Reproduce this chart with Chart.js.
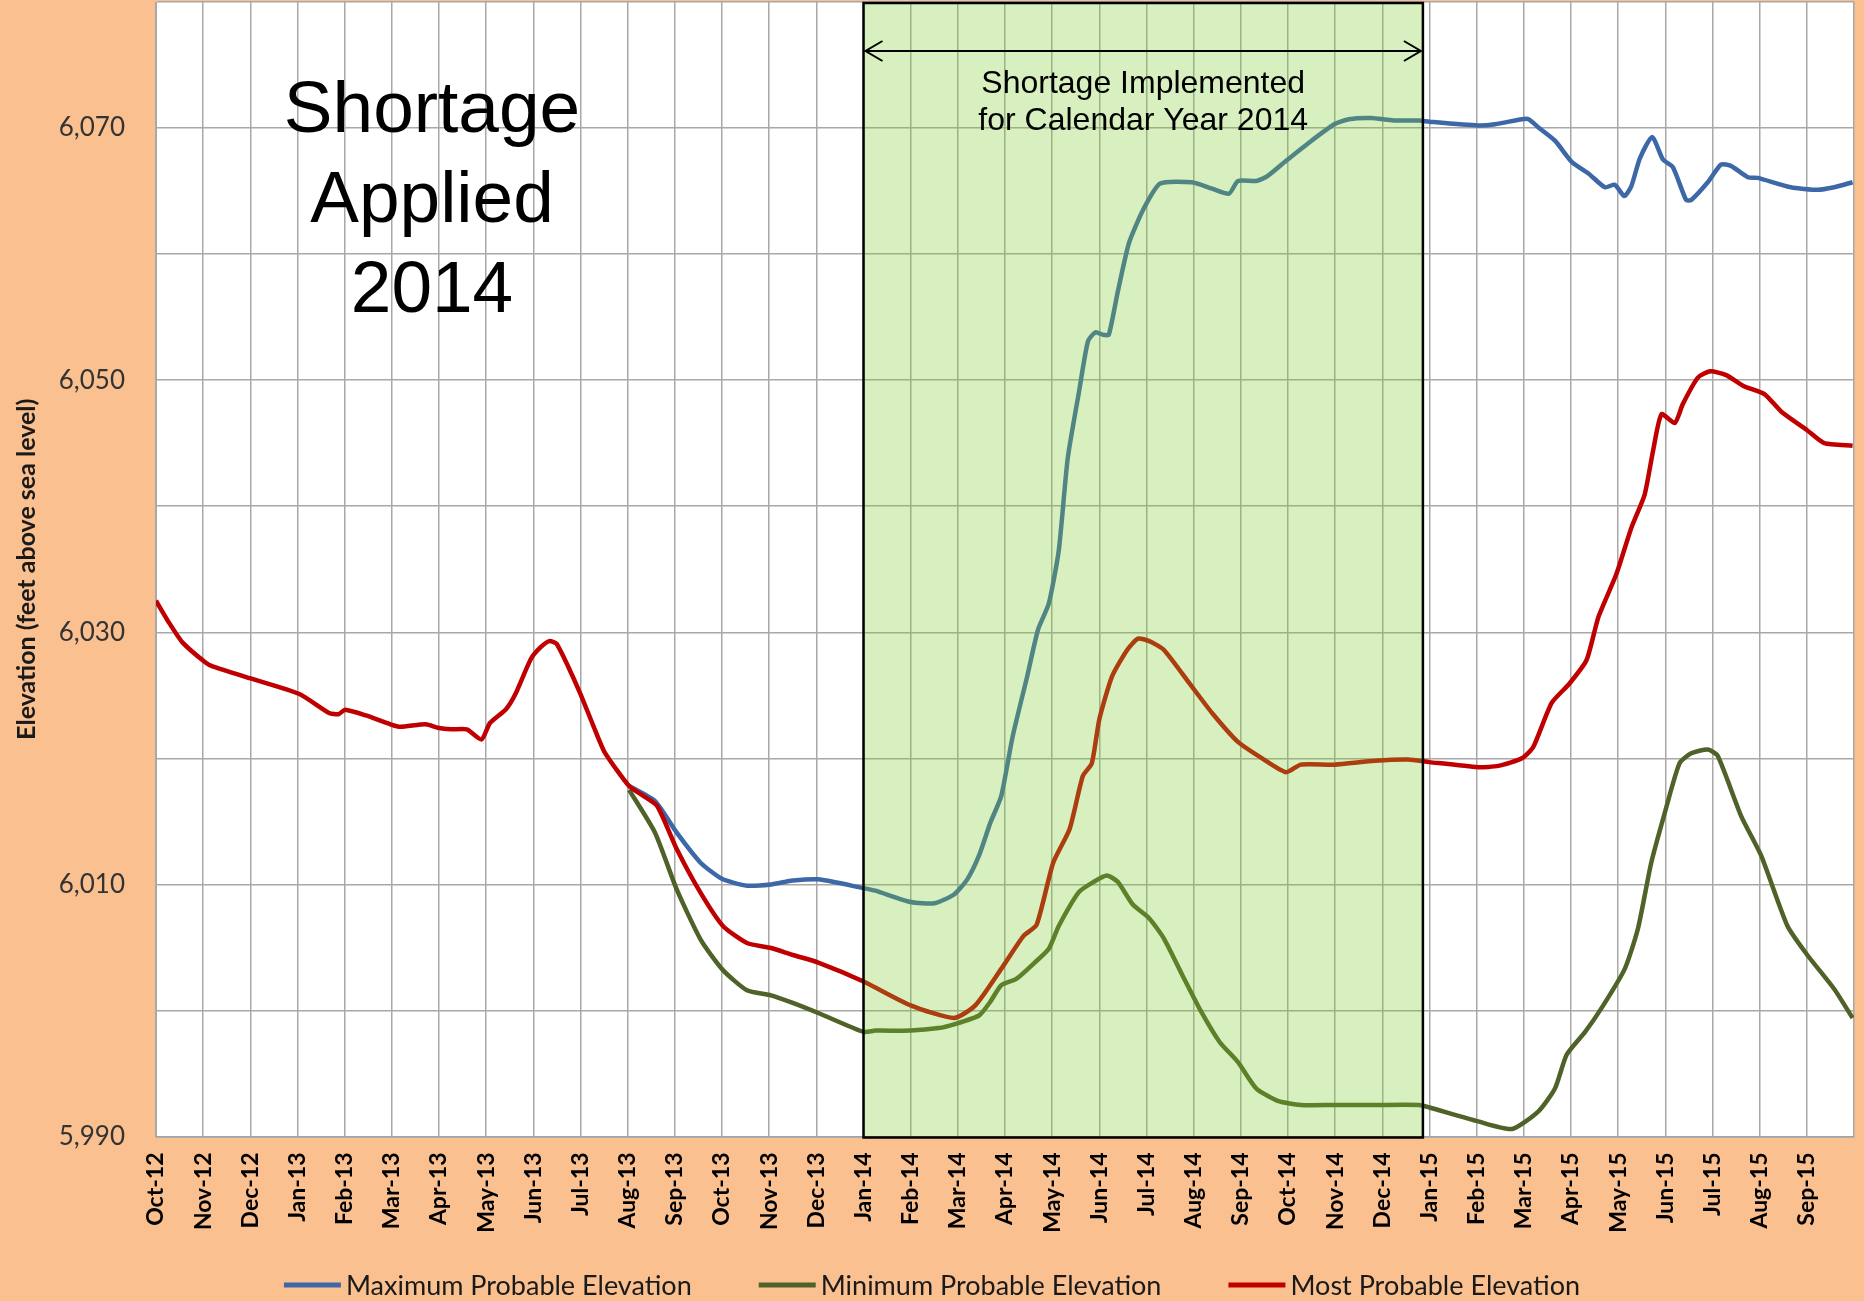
<!DOCTYPE html>
<html>
<head>
<meta charset="utf-8">
<title>Elevation</title>
<script src="https://cdn.jsdelivr.net/npm/chart.js@4.4.1/dist/chart.umd.min.js"></script>
<style>
    html, body { margin: 0; padding: 0; background: #fac090; }
    #wrap { width: 1864px; height: 1301px; position: relative; }
</style>
</head>
<body>
<div id="wrap"><canvas id="elevationChart"></canvas></div>
<script>
// Month tick labels (one per month, Oct-12 .. Sep-15)
const monthLabels = ['Oct-12', 'Nov-12', 'Dec-12', 'Jan-13', 'Feb-13', 'Mar-13', 'Apr-13', 'May-13', 'Jun-13',
    'Jul-13', 'Aug-13', 'Sep-13', 'Oct-13', 'Nov-13', 'Dec-13', 'Jan-14', 'Feb-14', 'Mar-14', 'Apr-14', 'May-14',
    'Jun-14', 'Jul-14', 'Aug-14', 'Sep-14', 'Oct-14', 'Nov-14', 'Dec-14', 'Jan-15', 'Feb-15', 'Mar-15', 'Apr-15',
    'May-15', 'Jun-15', 'Jul-15', 'Aug-15', 'Sep-15'];

// Maximum Probable Elevation (x = months since Oct-12)
const maxMonths = [10.03, 10.58, 11.04, 11.55, 12.02, 12.53, 13.04, 13.5, 14.04, 15.0, 15.25, 16.0, 16.5, 16.92,
    17.2, 17.45, 17.69, 17.92, 18.16, 18.47, 18.7, 18.93, 19.14, 19.33, 19.57, 19.76, 19.92, 20.08, 20.2, 20.39,
    20.63, 20.94, 21.29, 21.96, 22.39, 22.75, 22.94, 23.33, 23.57, 23.96, 24.43, 24.98, 25.29, 25.76, 26.24, 26.78,
    27.0, 28.03, 28.39, 28.96, 29.1, 29.31, 29.66, 30.02, 30.37, 30.72, 30.93, 31.13, 31.28, 31.46, 31.72, 31.95,
    32.16, 32.44, 32.55, 32.9, 33.18, 33.39, 33.75, 33.96, 34.66, 35.23, 35.58, 35.97];
const maxValues = [6017.8, 6016.6, 6014.1, 6011.7, 6010.4, 6009.9, 6010.0, 6010.3, 6010.4, 6009.7, 6009.5, 6008.6,
    6008.5, 6009.2, 6010.4, 6012.3, 6014.9, 6017.0, 6021.7, 6026.5, 6030.2, 6032.3, 6036.5, 6043.8, 6049.1, 6053.1,
    6053.8, 6053.6, 6053.6, 6057.0, 6060.9, 6063.6, 6065.6, 6065.7, 6065.2, 6064.8, 6065.8, 6065.8, 6066.2, 6067.4,
    6068.8, 6070.3, 6070.7, 6070.8, 6070.6, 6070.6, 6070.5, 6070.2, 6070.3, 6070.7, 6070.7, 6070.05, 6069.0, 6067.3,
    6066.4, 6065.3, 6065.5, 6064.6, 6065.4, 6067.6, 6069.3, 6067.5, 6066.9, 6064.3, 6064.3, 6065.7, 6067.1, 6067.0,
    6066.1, 6066.05, 6065.3, 6065.1, 6065.3, 6065.7];

// Minimum Probable Elevation
const minMonths = [10.03, 10.58, 11.04, 11.55, 12.02, 12.53, 13.04, 13.5, 14.04, 15.0, 15.25, 16.0, 16.59, 16.92,
    17.45, 17.69, 17.92, 18.24, 18.63, 18.93, 19.14, 19.57, 19.88, 20.16, 20.39, 20.71, 21.06, 21.37, 21.76, 22.16,
    22.55, 22.94, 23.33, 23.8, 24.27, 24.98, 25.84, 26.78, 27.0, 28.03, 28.75, 29.31, 29.66, 29.91, 30.3, 30.65,
    31.14, 31.42, 31.7, 31.99, 32.3, 32.55, 32.9, 33.11, 33.61, 34.03, 34.59, 35.01, 35.58, 35.97];
const minValues = [6017.5, 6014.1, 6009.6, 6005.6, 6003.2, 6001.6, 6001.2, 6000.6, 5999.8, 5998.3, 5998.4, 5998.4,
    5998.6, 5998.9, 5999.6, 6000.7, 6002.0, 6002.5, 6003.8, 6004.9, 6006.7, 6009.4, 6010.2, 6010.7, 6010.2, 6008.4,
    6007.3, 6005.7, 6002.8, 5999.9, 5997.5, 5995.9, 5993.8, 5992.8, 5992.5, 5992.5, 5992.5, 5992.5, 5992.3, 5991.2,
    5990.6, 5992.0, 5993.8, 5996.5, 5998.3, 6000.2, 6003.3, 6006.5, 6011.7, 6015.7, 6019.6, 6020.4, 6020.7, 6020.2,
    6015.4, 6012.3, 6006.7, 6004.4, 6001.7, 5999.4];

// Most Probable Elevation
const mostMonths = [0, 0.27, 0.56, 1.05, 1.2, 2.04, 3.04, 3.67, 3.87, 4.01, 4.45, 4.97, 5.18, 5.72, 6.0, 6.25,
    6.59, 6.9, 7.08, 7.42, 7.62, 7.95, 8.15, 8.34, 8.49, 8.73, 9.0, 9.27, 9.51, 10.03, 10.34, 10.63, 11.04, 11.55,
    12.02, 12.53, 13.04, 13.5, 14.04, 15.0, 16.0, 16.92, 17.37, 17.92, 18.39, 18.67, 19.02, 19.37, 19.65, 19.84,
    20.0, 20.27, 20.59, 20.82, 21.06, 21.37, 21.92, 22.39, 22.94, 23.49, 23.96, 24.27, 24.98, 25.84, 26.55, 27.0,
    28.03, 28.46, 28.96, 29.2, 29.59, 29.96, 30.33, 30.58, 30.96, 31.28, 31.56, 31.74, 31.92, 32.2, 32.37, 32.69,
    32.95, 33.29, 33.68, 34.1, 34.46, 35.0, 35.37, 35.97];
const mostValues = [6032.5, 6030.8, 6029.2, 6027.6, 6027.3, 6026.3, 6025.1, 6023.6, 6023.5, 6023.85, 6023.4,
    6022.7, 6022.5, 6022.7, 6022.4, 6022.3, 6022.3, 6021.5, 6022.8, 6023.9, 6025.1, 6027.9, 6028.8, 6029.3, 6029.1,
    6027.35, 6025.1, 6022.6, 6020.5, 6017.8, 6017.0, 6016.2, 6012.8, 6009.3, 6006.7, 6005.35, 6004.95, 6004.4,
    6003.8, 6002.3, 6000.4, 5999.4, 6000.4, 6003.3, 6005.9, 6006.8, 6011.7, 6014.4, 6018.6, 6019.6, 6023.1, 6026.5,
    6028.6, 6029.5, 6029.3, 6028.6, 6025.9, 6023.6, 6021.3, 6019.9, 6018.9, 6019.5, 6019.5, 6019.8, 6019.9, 6019.7,
    6019.3, 6019.4, 6020.0, 6020.9, 6024.4, 6025.9, 6027.8, 6031.2, 6034.6, 6038.3, 6040.9, 6044.4, 6047.3, 6046.6,
    6048.1, 6050.2, 6050.7, 6050.4, 6049.5, 6048.9, 6047.5, 6046.05, 6045.0, 6044.8];

// Shortage period (months since Oct-12)
const shortageStart = 15;
const shortageEnd = 26.86;

const toPoints = (xs, ys) => xs.map((x, i) => ({ x: x, y: ys[i] }));

// Draws the background, the shortage box, the notes and the legend
const overlayPlugin = {
    id: 'overlay',
    beforeDraw(chart) {
        const { ctx, chartArea: a } = chart;
        ctx.save();
        ctx.fillStyle = '#fac090';
        ctx.fillRect(0, 0, chart.width, chart.height);
        ctx.fillStyle = '#ffffff';
        ctx.fillRect(a.left, a.top, a.right - a.left, a.bottom - a.top);
        ctx.restore();
    },
    afterDatasetsDraw(chart) {
        const { ctx, chartArea: a, scales } = chart;
        const x0 = scales.x.getPixelForValue(shortageStart);
        const x1 = scales.x.getPixelForValue(shortageEnd);
        ctx.save();
        // green box
        ctx.fillStyle = 'rgba(125, 202, 45, 0.30)';
        ctx.fillRect(x0, a.top + 1, x1 - x0, a.bottom - a.top);
        ctx.strokeStyle = '#000';
        ctx.lineWidth = 2.5;
        ctx.strokeRect(x0, a.top + 1, x1 - x0, a.bottom - a.top);

        // double arrow
        const ay = a.top + 49;
        ctx.lineWidth = 2;
        ctx.beginPath();
        ctx.moveTo(x0 + 2, ay);
        ctx.lineTo(x1 - 2, ay);
        ctx.moveTo(x0 + 19, ay - 10);
        ctx.lineTo(x0 + 2, ay);
        ctx.lineTo(x0 + 19, ay + 10);
        ctx.moveTo(x1 - 19, ay - 10);
        ctx.lineTo(x1 - 2, ay);
        ctx.lineTo(x1 - 19, ay + 10);
        ctx.stroke();

        ctx.fillStyle = '#000';
        ctx.textAlign = 'center';
        ctx.textBaseline = 'alphabetic';
        ctx.font = '32px "Liberation Sans", Arial, sans-serif';
        const cx = (x0 + x1) / 2;
        ctx.fillText('Shortage Implemented', cx, a.top + 91);
        ctx.fillText('for Calendar Year 2014', cx, a.top + 128);

        // big note
        ctx.font = '73px "Liberation Sans", Arial, sans-serif';
        const bx = a.left + 276;
        ctx.fillText('Shortage', bx, a.top + 130);
        ctx.fillText('Applied', bx, a.top + 220);
        ctx.fillText('2014', bx, a.top + 310);
        ctx.restore();
    },
    afterDraw(chart) {
        const { ctx } = chart;
        const sets = chart.data.datasets;
        ctx.save();
        ctx.font = '27px Lato, "Open Sans", sans-serif';
        const lineLen = 57, textGap = 5, itemGap = 67;
        const widths = sets.map(d => ctx.measureText(d.label).width);
        let total = widths.reduce((s, w) => s + w + lineLen + textGap, 0) + itemGap * (sets.length - 1);
        let x = chart.width / 2 - total / 2;
        const y = 1285;
        ctx.textBaseline = 'middle';
        ctx.textAlign = 'left';
        sets.forEach((d, i) => {
            ctx.strokeStyle = d.borderColor;
            ctx.lineWidth = 5;
            ctx.beginPath();
            ctx.moveTo(x, y);
            ctx.lineTo(x + lineLen, y);
            ctx.stroke();
            ctx.fillStyle = '#1a1a1a';
            ctx.fillText(d.label, x + lineLen + textGap, y + 1);
            x += lineLen + textGap + widths[i] + itemGap;
        });
        ctx.restore();
    }
};

const chart = new Chart(document.getElementById('elevationChart'), {
    type: 'line',
    data: {
        datasets: [
            {
                label: 'Maximum Probable Elevation',
                data: toPoints(maxMonths, maxValues),
                borderColor: '#3d68a8',
                order: 1
            },
            {
                label: 'Minimum Probable Elevation',
                data: toPoints(minMonths, minValues),
                borderColor: '#4f6228',
                order: 2
            },
            {
                label: 'Most Probable Elevation',
                data: toPoints(mostMonths, mostValues),
                borderColor: '#c00000',
                order: 0
            }
        ]
    },
    options: {
        responsive: true,
        maintainAspectRatio: false,
        animation: false,
        layout: { padding: { left: 0, right: 10, top: 2, bottom: 0 } },
        elements: {
            point: { radius: 0 },
            line: { borderWidth: 4.5, tension: 0.2, fill: false }
        },
        plugins: {
            legend: { display: false },
            tooltip: { enabled: false }
        },
        scales: {
            x: {
                type: 'linear',
                min: 0,
                max: 36,
                afterFit: s => {
                    s.height = 164.5;
                    s.paddingLeft = 0;
                    s.paddingRight = 0;
                },
                border: { color: '#9aa3b0', width: 1.5 },
                grid: { color: '#a8a8a8', lineWidth: 1.5, drawTicks: false },
                ticks: {
                    stepSize: 1,
                    autoSkip: false,
                    minRotation: 90,
                    maxRotation: 90,
                    padding: 16,
                    color: '#000',
                    font: { family: 'Lato, "Open Sans", sans-serif', size: 23, weight: 'bold' },
                    callback: v => monthLabels[Math.round(v)] || ''
                }
            },
            y: {
                min: 5990,
                max: 6080,
                afterFit: s => {
                    s.width = 156;
                    s.paddingTop = 0;
                    s.paddingBottom = 0;
                },
                border: { color: '#a8a8a8', width: 1 },
                grid: { color: '#a8a8a8', lineWidth: 1.5, drawTicks: false },
                ticks: {
                    stepSize: 10,
                    padding: 31,
                    color: '#333',
                    font: { family: 'Lato, "Open Sans", sans-serif', size: 26 },
                    callback: v => ((v - 5990) % 20 === 0 ? v.toLocaleString('en-US') : '')
                },
                title: {
                    display: true,
                    text: 'Elevation (feet above sea level)',
                    color: '#1a1a1a',
                    font: { family: 'Lato, "Open Sans", sans-serif', size: 25, weight: 'bold' },
                    padding: { top: 12, bottom: 0 }
                }
            }
        }
    },
    plugins: [overlayPlugin]
});
</script>
</body>
</html>
